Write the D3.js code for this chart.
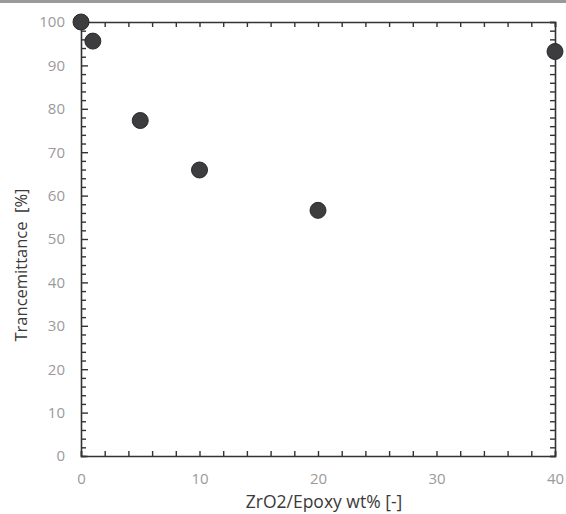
<!DOCTYPE html>
<html><head><meta charset="utf-8">
<script src="https://cdn.jsdelivr.net/npm/d3@7"></script>
<style>body{margin:0;background:#fff}svg{display:block}</style>
</head><body>
<script>
const xValues = [0, 1, 5, 10, 20, 40];
const yValues = [100, 95.6, 77.3, 65.9, 56.6, 93.2];
const xTickLabels = [0, 10, 20, 30, 40];
const yTickLabels = [0, 10, 20, 30, 40, 50, 60, 70, 80, 90, 100];
const xTitle = "ZrO2/Epoxy wt% [-]";
const yTitle = "Trancemittance\u00a0\u00a0[%]";

const W = 566, H = 514;
const m = {left: 81, right: 11, top: 22, bottom: 58};
const svg = d3.select("body").append("svg").attr("width", W).attr("height", H);
svg.append("rect").attr("width", W).attr("height", 3).attr("fill", "#9a9a9a");

const x = d3.scaleLinear().domain([0, 40]).range([m.left, W - m.right]);
const y = d3.scaleLinear().domain([0, 100]).range([H - m.bottom, m.top]);
const font = "'Open Sans', 'Noto Sans', sans-serif";
const axisColor = "#333";

const minorX = d3.range(0, 41, 2);
const minorY = d3.range(0, 101, 2);

function styleAxis(g) {
  g.select(".domain").attr("stroke", axisColor).attr("stroke-width", 1.6);
  g.selectAll(".tick line").attr("stroke", axisColor).attr("stroke-width", 1.4);
  g.selectAll("text").attr("fill", "#9a9a9a").style("font-family", font).style("font-size", "15px");
}

// bottom
svg.append("g").attr("transform", `translate(0,${y(0)})`)
  .call(d3.axisBottom(x).tickValues(minorX).tickSize(-5).tickFormat(""))
  .call(styleAxis);
svg.append("g").attr("transform", `translate(0,${y(0)})`)
  .call(d3.axisBottom(x).tickValues(xTickLabels).tickSize(0).tickPadding(17).tickFormat(d3.format("d")))
  .call(g => g.select(".domain").remove())
  .call(styleAxis);
// top
svg.append("g").attr("transform", `translate(0,${y(100)})`)
  .call(d3.axisTop(x).tickValues(minorX).tickSize(-5).tickFormat(""))
  .call(styleAxis);
// left
svg.append("g").attr("transform", `translate(${x(0)},0)`)
  .call(d3.axisLeft(y).tickValues(minorY).tickSize(-5).tickFormat(""))
  .call(styleAxis)
  .call(g => g.selectAll(".tick line").filter(d => d % 10 === 0).attr("x2", 7));
svg.append("g").attr("transform", `translate(${x(0)},0)`)
  .call(d3.axisLeft(y).tickValues(yTickLabels).tickSize(0).tickPadding(16).tickFormat(d3.format("d")))
  .call(g => g.select(".domain").remove())
  .call(styleAxis);
// right
svg.append("g").attr("transform", `translate(${x(40)},0)`)
  .call(d3.axisRight(y).tickValues(minorY).tickSize(-5).tickFormat(""))
  .call(styleAxis);

// points
svg.append("g").selectAll("circle").data(xValues).join("circle")
  .attr("cx", (d) => x(d)).attr("cy", (d, i) => y(yValues[i]))
  .attr("r", 8).attr("fill", "#3d3d3f").attr("stroke", "#2a2a2a").attr("stroke-width", 1);

// titles
svg.append("text").attr("x", 324).attr("y", 508)
  .attr("text-anchor", "middle").attr("fill", "#3a3a3a")
  .style("font-family", font).style("font-size", "17.5px").text(xTitle);
svg.append("text").attr("transform", `translate(27,265) rotate(-90)`)
  .attr("text-anchor", "middle").attr("fill", "#3a3a3a")
  .style("font-family", font).style("font-size", "16.5px").text(yTitle);
</script>
</body></html>
